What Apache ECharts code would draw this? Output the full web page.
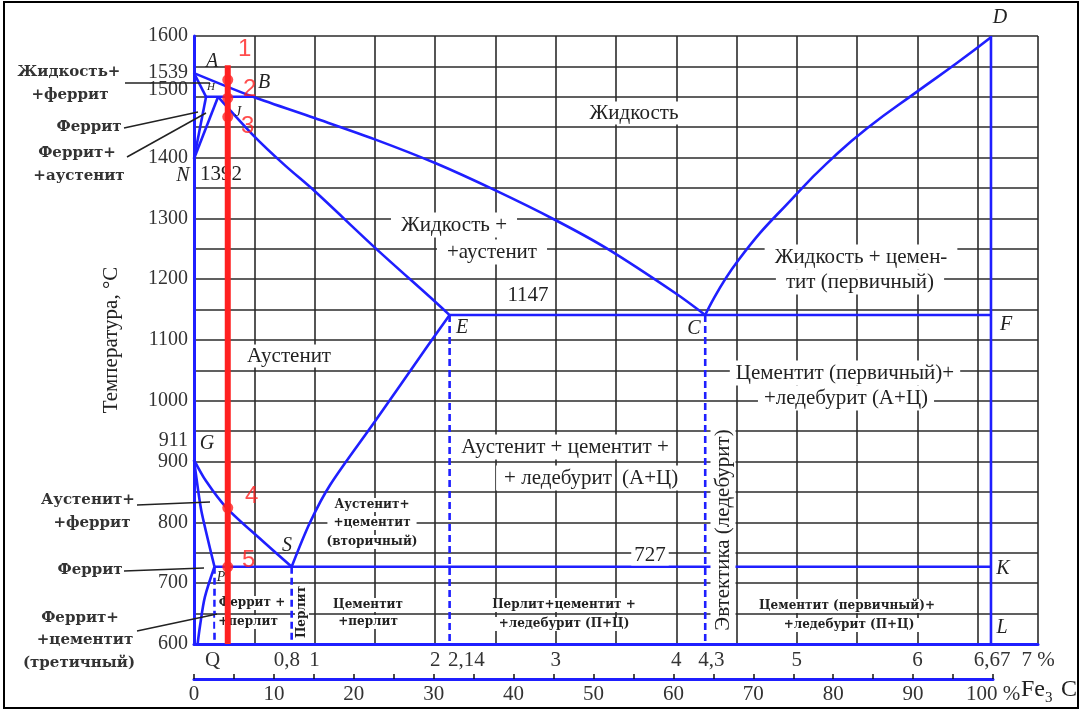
<!DOCTYPE html>
<html>
<head>
<meta charset="utf-8">
<script src="https://cdn.jsdelivr.net/npm/echarts@6/dist/echarts.min.js"></script>
<style>html,body{margin:0;padding:0;background:#fff}#c{width:1082px;height:711px}</style>
</head>
<body>
<div id="c"></div>
<script>
// ---------- data (wt.% C , °C) ----------
const liquidusABC = [[0,1539],[0.49,1500],[1,1465],[1.5,1430],[2,1391],[2.5,1346],[3,1297],[3.42,1251],[4,1176],[4.24,1141]];
const liquidusCD  = [[4.24,1141],[4.51,1230],[5.02,1345],[5.30,1400],[5.58,1448],[6.0,1509],[6.33,1556],[6.61,1598]];
const solidusAH   = [[0,1539],[0.1,1500]];
const peritecticHJB = [[0.1,1500],[0.49,1500]];
const lineNH      = [[0,1398],[0.1,1500]];
const lineNJ      = [[0,1398],[0.2,1500]];
const solidusJE   = [[0.2,1500],[0.5,1435],[0.75,1388],[1.0,1345],[1.5,1252],[2.0,1163],[2.12,1141]];
const eutecticECF = [[2.12,1141],[6.61,1141]];
const lineGS      = [[0,903],[0.1,868],[0.27,824],[0.56,771],[0.81,727]];
const lineGP      = [[0,903],[0.06,820],[0.17,727]];
const linePQ      = [[0.17,727],[0.09,677],[0.05,630],[0.03,600]];
const lineSE      = [[0.81,727],[0.96,799],[1.13,862],[1.5,966],[1.93,1088],[2.12,1141]];
const eutectoidPSK = [[0.17,727],[6.61,727]];
const cementiteDL = [[6.61,1600],[6.61,600]];
const dashedP = [[0.17,727],[0.17,600]];
const dashedS = [[0.81,727],[0.81,600]];
const dashedE = [[2.12,1141],[2.12,600]];
const dashedC = [[4.24,1141],[4.24,600]];
const alloyLine = [[0.28,1552],[0.28,600]];
const alloyPoints = [[0.28,1528],[0.28,1498],[0.28,1467],[0.28,824],[0.28,727]];
const alloyLabels = ['1','2','3','4','5'];
const xTickLabels = ['Q','0,8','1','2','2,14','3','4','4,3','5','6','6,67','7 %'];
const yTickLabels = ['600','700','800','900','911','1000','1100','1200','1300','1400','1500','1539','1600'];
const fe3cMax = 100;

// ---------- chart ----------
const BLUE = '#1f1fff', RED = '#ff2020', GRID = '#2b2b2b';
const SERIF = '"Liberation Serif", "Times New Roman", serif';
const BOLDS = '"DejaVu Serif", serif';
const xLabelPos = [0.155,0.77,1,2,2.26,3,4,4.29,5,6,6.62,7];
const yLabelPos = [600,700,800,900,935,1000,1100,1200,1300,1400,1512,1539,1600];
function lookup(pos, labels, v){ for(let i=0;i<pos.length;i++){ if(Math.abs(pos[i]-v)<1e-6) return labels[i]; } return ''; }

function blueLine(name, data, dashed, smooth){
  return {type:'line', name, data, xAxisIndex:0, yAxisIndex:0, symbol:'none', showSymbol:false,
    silent:true, z:3, smooth: smooth||false, clip:false,
    lineStyle:{color:BLUE, width:2.6, type: dashed ? [7,4] : 'solid'}};
}

function txt(text, x, y, font, o){
  o = o || {};
  const st = {text, font, fill:o.fill||'#222', align:o.align||'center', verticalAlign:'middle',
              textAlign:o.align||'center', textVerticalAlign:'middle'};
  if (o.bg) { st.backgroundColor = o.bg; st.padding = o.pad || [1,6]; }
  return {type:'text', x, y, rotation:o.rot||0, z:o.z||6, silent:true, style:st};
}
function leader(x1,y1,x2,y2){
  return {type:'line', z:6, silent:true, shape:{x1,y1,x2,y2}, style:{stroke:'#222', lineWidth:1.5}};
}

const F20 = '21px ' + SERIF;
const FI = 'italic 20px ' + SERIF;
const FS = 'bold 12px ' + BOLDS;
const FL = 'bold 15px ' + BOLDS;
const W = '#ffffff';

const graphics = [
  {type:'rect', z:1, silent:true, shape:{x:4,y:2,width:1074,height:706}, style:{fill:'none', stroke:'#000', lineWidth:2}},
  // axis title
  txt('Температура, °C', 111, 340, '21px ' + SERIF, {rot:Math.PI/2}),
  // left annotations
  txt('Жидкость+', 69, 72, FL, {fill:'#333'}),
  txt('+феррит', 70, 95, FL, {fill:'#333'}),
  txt('Феррит', 89, 127, FL, {fill:'#333'}),
  txt('Феррит+', 77, 153, FL, {fill:'#333'}),
  txt('+аустенит', 79, 176, FL, {fill:'#333'}),
  txt('Аустенит+', 88, 500, FL, {fill:'#333'}),
  txt('+феррит', 92, 523, FL, {fill:'#333'}),
  txt('Феррит', 90, 570, FL, {fill:'#333'}),
  txt('Феррит+', 80, 618, FL, {fill:'#333'}),
  txt('+цементит', 85, 640, FL, {fill:'#333'}),
  txt('(третичный)', 79, 663, FL, {fill:'#333'}),
  leader(125,83,210,83), leader(124,128,198,112), leader(127,157,206,113),
  leader(137,505,210,502), leader(124,571,204,568), leader(137,631,217,614),
  // region labels
  txt('Жидкость', 634, 113, F20, {bg:W}),
  txt('Жидкость +', 454, 225, F20, {bg:W, pad:[2,10]}),
  txt('+аустенит', 492, 252, F20, {bg:W, pad:[2,10]}),
  txt('1147', 528, 295, F20, {bg:W, pad:[1,3]}),
  txt('Жидкость + цемен-', 861, 257, F20, {bg:W, pad:[2,10]}),
  txt('тит (первичный)', 860, 282, F20, {bg:W, pad:[2,10]}),
  txt('Аустенит', 289, 356, F20, {bg:W}),
  txt('Цементит (первичный)+', 845, 373, F20, {bg:W, pad:[2,6]}),
  txt('+ледебурит (А+Ц)', 846, 398, F20, {bg:W, pad:[2,6]}),
  txt('Аустенит + цементит +', 565, 447, F20, {bg:W, pad:[2,6]}),
  txt('+ ледебурит', 613, 478, F20, {bg:W, pad:[2,1,2,8], align:'right'}),
  txt('(А+Ц)', 621, 478, F20, {bg:W, pad:[2,6,2,1], align:'left'}),
  txt('727', 650, 555, F20, {bg:W, pad:[0,3]}),
  txt('Эвтектика (ледебурит)', 723, 530, '21px ' + SERIF, {rot:Math.PI/2, bg:W, pad:[2,4]}),
  txt('Аустенит+', 372, 505, FS, {bg:W, pad:[1,6]}),
  txt('+цементит', 372, 523, FS, {bg:W, pad:[1,6]}),
  txt('(вторичный)', 372, 542, FS, {bg:W, pad:[1,6]}),
  txt('Феррит +', 252, 603, FS, {bg:W, pad:[1,3]}),
  txt('+перлит', 248, 622, FS, {bg:W, pad:[1,3]}),
  txt('Перлит', 302, 612, FS, {rot:Math.PI/2, bg:W, pad:[1,2]}),
  txt('Цементит', 368, 605, FS, {bg:W, pad:[1,8]}),
  txt('+перлит', 368, 622, FS, {bg:W, pad:[1,8]}),
  txt('Перлит+цементит +', 564, 605, FS, {bg:W, pad:[1,8]}),
  txt('+ледебурит (П+Ц)', 564, 624, FS, {bg:W, pad:[1,8]}),
  txt('Цементит (первичный)+', 847, 606, FS, {bg:W, pad:[1,8]}),
  txt('+ледебурит (П+Ц)', 849, 625, FS, {bg:W, pad:[1,8]}),
  // point letters
  txt('A', 212, 62, FI), txt('B', 264, 83, FI),
  txt('H', 211, 87, 'italic 11px ' + SERIF), txt('J', 238, 112, 'italic 14px ' + SERIF),
  txt('N', 183, 176, FI), txt('1392', 221, 174, F20),
  txt('G', 207, 444, FI), txt('S', 287, 546, FI), txt('P', 221, 577, 'italic 14px ' + SERIF),
  txt('E', 462, 328, FI), txt('C', 694, 329, FI), txt('F', 1006, 325, FI),
  txt('K', 1003, 569, FI), txt('L', 1002, 628, FI), txt('D', 1000, 18, FI),
  // Fe3C
  txt('Fe', 1021, 690, '24px ' + SERIF, {align:'left'}),
  txt('3', 1045, 698, '15px ' + SERIF, {align:'left'}),
  txt('C', 1061, 690, '24px ' + SERIF, {align:'left'})
];

const redOffsets = [[17,-30],[22,-9],[20,10],[24,-11],[21,-6]];

const option = {
  animation:false,
  backgroundColor:'#fff',
  grid:[{left:194, top:36, width:844, height:608},
        {left:194, top:678, width:799, height:1}],
  xAxis:[
    {type:'value', gridIndex:0, min:0, max:7, interval:0.5, position:'bottom',
     axisLine:{show:true, onZero:false, lineStyle:{color:BLUE, width:3}},
     axisTick:{show:false},
     splitLine:{show:true, lineStyle:{color:GRID, width:1.6}},
     axisLabel:{customValues:xLabelPos, formatter:v=>lookup(xLabelPos, xTickLabels, v),
                fontFamily:SERIF, fontSize:21, color:'#333', margin:6}},
    {type:'value', gridIndex:1, min:0, max:fe3cMax, interval:5, position:'bottom',
     axisLine:{show:true, onZero:false, lineStyle:{color:BLUE, width:3}},
     axisTick:{show:true, inside:true, length:5, lineStyle:{color:'#111', width:1.5}},
     splitLine:{show:false},
     axisLabel:{formatter:v=> (v%10===0 ? (v===fe3cMax ? v+' %' : String(v)) : ''),
                fontFamily:SERIF, fontSize:21, color:'#333', margin:5}}
  ],
  yAxis:[
    {type:'value', gridIndex:0, min:600, max:1600, interval:50,
     axisLine:{show:true, onZero:false, lineStyle:{color:BLUE, width:3}},
     axisTick:{show:false},
     splitLine:{show:true, lineStyle:{color:GRID, width:1.6}},
     axisLabel:{customValues:yLabelPos, formatter:v=>lookup(yLabelPos, yTickLabels, v),
                fontFamily:SERIF, fontSize:20, color:'#333', margin:6}},
    {type:'value', gridIndex:1, show:false, min:0, max:1}
  ],
  series:[
    blueLine('ABC', liquidusABC, false, 0.3),
    blueLine('CD', liquidusCD, false, 0.5),
    blueLine('AH', solidusAH),
    blueLine('HJB', peritecticHJB),
    blueLine('NH', lineNH),
    blueLine('NJ', lineNJ),
    blueLine('JE', solidusJE, false, 0.3),
    blueLine('ECF', eutecticECF),
    blueLine('GS', lineGS, false, 0.3),
    blueLine('GP', lineGP, false, 0.2),
    blueLine('PQ', linePQ, false, 0.3),
    blueLine('SE', lineSE, false, 0.3),
    blueLine('PSK', eutectoidPSK),
    blueLine('DL', cementiteDL),
    blueLine('dP', dashedP, true),
    blueLine('dS', dashedS, true),
    blueLine('dE', dashedE, true),
    blueLine('dC', dashedC, true),
    {type:'line', name:'alloy', data:alloyLine, symbol:'none', z:10, silent:true,
     lineStyle:{color:RED, width:6}},
    {type:'scatter', name:'points', z:11, silent:true, symbolSize:11, itemStyle:{color:RED},
     data: alloyPoints.map((p,i)=>({value:p, label:{show:true, formatter:alloyLabels[i], offset:redOffsets[i]}})),
     label:{show:true, position:'inside', fontFamily:'"Liberation Sans", Arial, sans-serif', fontSize:24, color:RED}}
  ],
  graphic:{elements:graphics}
};

const chart = echarts.init(document.getElementById('c'), null, {width:1082, height:711});
chart.setOption(option);
</script>
</body>
</html>
